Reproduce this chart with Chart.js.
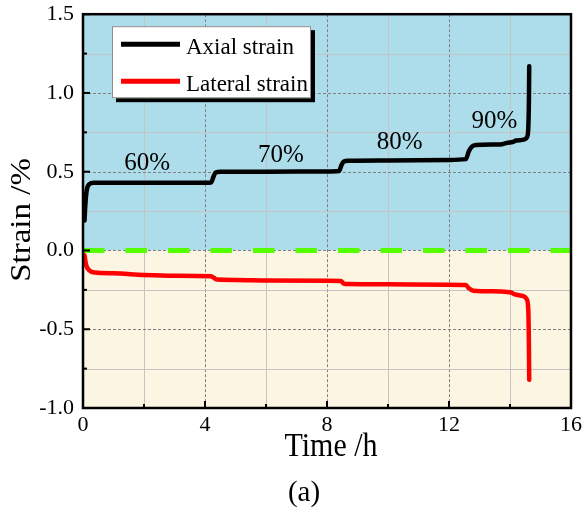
<!DOCTYPE html>
<html>
<head>
<meta charset="utf-8">
<script src="https://cdn.jsdelivr.net/npm/chart.js@4/dist/chart.umd.min.js"></script>
<style>
  html, body { margin: 0; padding: 0; background: #fff; }
  #wrap { width: 585px; height: 511px; }
</style>
</head>
<body>
<div id="wrap"><canvas id="strainChart" width="585" height="511"></canvas></div>
<script>
// time (h) and strain (%)
const axialTime = [0.05, 0.08, 0.12, 0.2, 0.35, 1, 2, 3, 4, 4.2, 4.28, 4.35, 4.5, 6, 8, 8.4, 8.47, 8.55, 8.7,
    10, 12, 12.55, 12.65, 12.75, 12.9, 13.5, 13.75, 13.9, 14.1, 14.2, 14.4, 14.5, 14.56, 14.6, 14.62, 14.63];
const axialStrain = [0.19, 0.3, 0.38, 0.42, 0.43, 0.43, 0.43, 0.43, 0.43, 0.432, 0.47, 0.495, 0.5, 0.5, 0.502, 0.505, 0.54, 0.565, 0.57,
    0.572, 0.575, 0.58, 0.63, 0.66, 0.67, 0.673, 0.675, 0.683, 0.69, 0.698, 0.702, 0.708, 0.72, 0.78, 0.95, 1.17];

const lateralTime = [0.05, 0.1, 0.2, 0.4, 1, 2, 3, 4.2, 4.3, 4.4, 5, 6, 8, 8.45, 8.55, 8.7, 10, 12, 12.55, 12.65, 12.8,
    13.7, 14.05, 14.16, 14.44, 14.55, 14.6, 14.62, 14.63];
const lateralStrain = [-0.03, -0.09, -0.125, -0.14, -0.145, -0.155, -0.16, -0.163, -0.175, -0.185, -0.187, -0.19, -0.192, -0.193, -0.21, -0.213, -0.215, -0.217, -0.219, -0.24, -0.255,
    -0.26, -0.268, -0.279, -0.29, -0.31, -0.38, -0.6, -0.82];

const zeroTime = [0, 16];
const zeroStrain = [0, 0];

const stageLabels = ["60%", "70%", "80%", "90%"];
const stageTime = [2.1, 6.49, 10.38, 13.49];
const stageStrain = [0.551, 0.605, 0.685, 0.821];

const xTicks = [0, 4, 8, 12, 16];
const yTicks = [-1.0, -0.5, 0.0, 0.5, 1.0, 1.5];

const SERIF = '"Liberation Serif", "Times New Roman", serif';

function points(xs, ys) {
    return xs.map((x, i) => ({ x: x, y: ys[i] }));
}

function stretchedText(ctx, text, x, y, sy) {
    ctx.save();
    ctx.translate(x, y);
    ctx.scale(1, sy);
    ctx.fillText(text, 0, 0);
    ctx.restore();
}

const framePlugin = {
    id: "frame",

    beforeDatasetsDraw(chart) {
        const ctx = chart.ctx;
        const a = chart.chartArea;
        const xs = chart.scales.x;
        const ys = chart.scales.y;
        const y0 = ys.getPixelForValue(0);

        ctx.save();
        ctx.fillStyle = "#addcea";
        ctx.fillRect(a.left, a.top, a.right - a.left, y0 - a.top);
        ctx.fillStyle = "#fcf5e1";
        ctx.fillRect(a.left, y0, a.right - a.left, a.bottom - y0);

        ctx.lineWidth = 1;
        xs.ticks.forEach(t => {
            if (t.value <= xs.min || t.value >= xs.max) return;
            const px = Math.round(xs.getPixelForValue(t.value)) + 0.5;
            const major = xTicks.includes(t.value);
            ctx.strokeStyle = major ? "#808080" : "#c4c4c4";
            ctx.setLineDash(major ? [3, 2] : []);
            ctx.beginPath();
            ctx.moveTo(px, a.top);
            ctx.lineTo(px, a.bottom);
            ctx.stroke();
        });
        ys.ticks.forEach(t => {
            if (t.value <= ys.min || t.value >= ys.max) return;
            const py = Math.round(ys.getPixelForValue(t.value)) + 0.5;
            const major = yTicks.includes(t.value);
            ctx.strokeStyle = major ? "#808080" : "#c4c4c4";
            ctx.setLineDash(major ? [3, 2] : []);
            ctx.beginPath();
            ctx.moveTo(a.left, py);
            ctx.lineTo(a.right, py);
            ctx.stroke();
        });
        ctx.restore();
    },

    afterDatasetsDraw(chart) {
        const ctx = chart.ctx;
        const a = chart.chartArea;
        const xs = chart.scales.x;
        const ys = chart.scales.y;

        ctx.save();
        ctx.setLineDash([]);
        ctx.strokeStyle = "#000";
        ctx.lineWidth = 2.5;
        ctx.strokeRect(a.left, a.top, a.right - a.left, a.bottom - a.top);

        // inward tick marks on bottom and left axes
        ctx.lineWidth = 2;
        xs.ticks.forEach(t => {
            const px = xs.getPixelForValue(t.value);
            const len = xTicks.includes(t.value) ? 7 : 4;
            ctx.beginPath();
            ctx.moveTo(px, a.bottom);
            ctx.lineTo(px, a.bottom - len);
            ctx.stroke();
        });
        ys.ticks.forEach(t => {
            const py = ys.getPixelForValue(t.value);
            const len = yTicks.includes(t.value) ? 7 : 4;
            ctx.beginPath();
            ctx.moveTo(a.left, py);
            ctx.lineTo(a.left + len, py);
            ctx.stroke();
        });

        // stage labels
        ctx.fillStyle = "#000";
        ctx.font = "25px " + SERIF;
        ctx.textAlign = "center";
        ctx.textBaseline = "middle";
        stageLabels.forEach((s, i) => {
            ctx.fillText(s, xs.getPixelForValue(stageTime[i]), ys.getPixelForValue(stageStrain[i]));
        });

        // legend box with shadow
        const lx = a.left + 29, ly = a.top + 12, lw = 199, lh = 72;
        ctx.fillStyle = "#000";
        ctx.fillRect(lx + 4, ly + 4, lw, lh);
        ctx.fillStyle = "#fff";
        ctx.fillRect(lx, ly, lw, lh);
        ctx.strokeStyle = "#8c8c8c";
        ctx.lineWidth = 1;
        ctx.strokeRect(lx + 0.5, ly + 0.5, lw - 1, lh - 1);

        const entries = chart.data.datasets.filter(d => d.label);
        ctx.font = "23px " + SERIF;
        ctx.textAlign = "left";
        ctx.textBaseline = "middle";
        entries.forEach((d, i) => {
            const rowY = ly + 18 + i * 37;
            ctx.strokeStyle = d.borderColor;
            ctx.lineWidth = 5;
            ctx.beginPath();
            ctx.moveTo(lx + 9, rowY);
            ctx.lineTo(lx + 68, rowY);
            ctx.stroke();
            ctx.fillStyle = "#000";
            ctx.fillText(d.label, lx + 74, rowY + 4);
        });

        // axis titles and panel tag
        ctx.font = "30px " + SERIF;
        ctx.textAlign = "center";
        stretchedText(ctx, "Time /h", 331, 447, 1.1);
        ctx.font = "29px " + SERIF;
        ctx.fillText("(a)", 304, 493);

        ctx.save();
        ctx.font = "30px " + SERIF;
        ctx.translate(22, 220);
        ctx.rotate(-Math.PI / 2);
        ctx.scale(1.1, 1);
        ctx.fillText("Strain /%", 0, 0);
        ctx.restore();

        ctx.restore();
    }
};

const chart = new Chart(document.getElementById("strainChart"), {
    type: "line",
    data: {
        datasets: [{
            label: "Axial strain",
            data: points(axialTime, axialStrain),
            borderColor: "#000000",
            borderWidth: 4.5,
            pointRadius: 0,
            cubicInterpolationMode: "monotone",
            borderCapStyle: "round",
            borderJoinStyle: "round",
            order: 1
        }, {
            label: "Lateral strain",
            data: points(lateralTime, lateralStrain),
            borderColor: "#ff0000",
            borderWidth: 4.5,
            pointRadius: 0,
            cubicInterpolationMode: "monotone",
            borderCapStyle: "round",
            borderJoinStyle: "round",
            order: 2
        }, {
            label: "",
            data: points(zeroTime, zeroStrain),
            borderColor: "#55ff00",
            borderWidth: 5,
            borderDash: [21.5, 21],
            borderCapStyle: "butt",
            pointRadius: 0,
            clip: 6,
            order: 3
        }]
    },
    options: {
        responsive: false,
        devicePixelRatio: 1,
        animation: false,
        layout: { padding: { top: 14, right: 14, left: 0, bottom: 0 } },
        plugins: {
            legend: { display: false },
            tooltip: { enabled: false }
        },
        scales: {
            x: {
                type: "linear",
                min: 0,
                max: 16,
                grid: { display: false },
                border: { display: false },
                ticks: {
                    stepSize: 2,
                    autoSkip: false,
                    maxRotation: 0,
                    padding: -4,
                    color: "#000",
                    font: { family: SERIF, size: 22 },
                    callback: v => xTicks.includes(v) ? String(v) : ""
                },
                afterFit: s => { s.height = 103; }
            },
            y: {
                min: -1,
                max: 1.5,
                grid: { display: false },
                border: { display: false },
                ticks: {
                    stepSize: 0.25,
                    autoSkip: false,
                    padding: 1,
                    color: "#000",
                    font: { family: SERIF, size: 22 },
                    callback: v => yTicks.includes(v) ? v.toFixed(1) : ""
                },
                afterFit: s => { s.width = 83; }
            }
        }
    },
    plugins: [framePlugin]
});
</script>
</body>
</html>
